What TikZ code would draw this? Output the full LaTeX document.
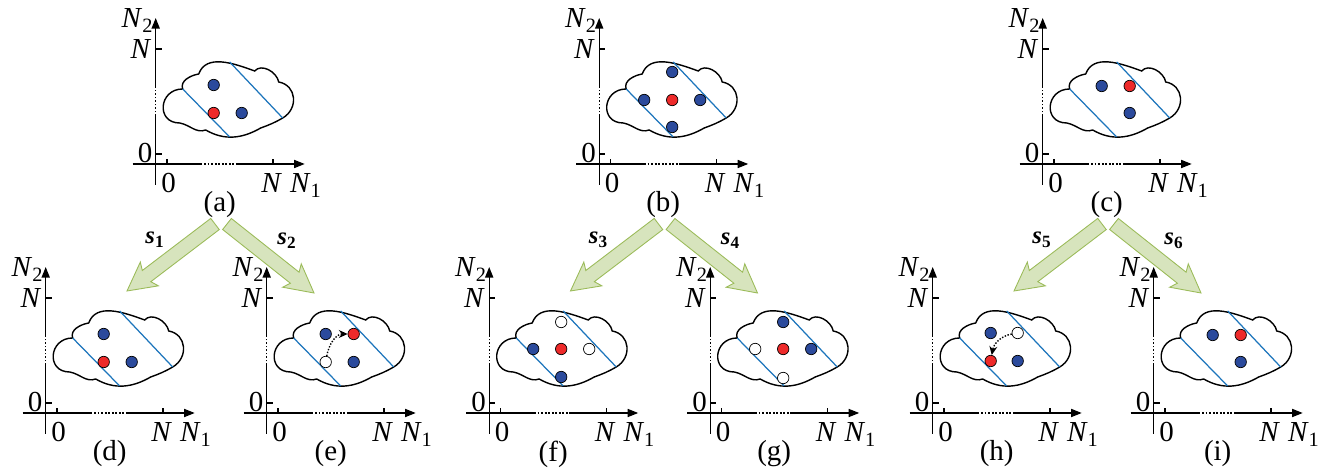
\documentclass[tikz,border=0pt]{standalone}
\usepackage{fontspec}
\setmainfont{Liberation Serif}
\usetikzlibrary{calc,arrows.meta}
\definecolor{dotblue}{HTML}{2B4A9C}
\definecolor{dotred}{HTML}{EE2A2A}
\definecolor{cutblue}{HTML}{1C75BC}
\definecolor{arrfill}{HTML}{D7E4BD}
\definecolor{arrline}{HTML}{9BBB59}

% outline of the cloud, in the panel's own frame (1 unit = 1 px)
\newcommand\cloudpath{(27,75) to[out=110,in=190] (43,90)
  to[out=70,in=160] (99,93) to[out=50,in=100] (123,82)
  to[out=-10,in=30,looseness=1.3] (127,46) to[out=210,in=20] (105,36)
  to[out=-150,in=-30] (50,34) to[out=-160,in=-10] (24,41)
  to[out=180,in=180,looseness=1.8] cycle}

% axes, cloud and caption of one panel
\newcommand\plane[1]{%
  \draw[axisline] (-23,0) -- (45,0);
  \draw[axisline,gap] (45,0) -- (81,0);
  \draw[axisline,-{Triangle[length=6pt,width=4.6pt]}] (81,0) -- (149,0);
  \draw[axisline] (0,-21) -- (0,48);
  \draw[axisline,gap] (0,48) -- (0,76);
  \draw[axisline,-{Triangle[length=6pt,width=4.6pt]}] (0,76) -- (0,146);
  \draw[axisline] (0,10) -- (6,10) (0,115) -- (6,115)
                  (11.3,0) -- (11.3,5) (117.3,0) -- (117.3,5);
  \node[txt,anchor=base east] at (-3,1) {0};
  \node[txt,anchor=base east] at (-4,105) {\textit{N}};
  \node[txt,anchor=base east] at (-2,136) {\textit{N}\textsubscript{2}};
  \node[txt,anchor=base] at (12.8,-29) {0};
  \node[txt,anchor=base] at (116,-29) {\textit{N}};
  \node[txt,anchor=base west] at (134,-29) {\textit{N}\textsubscript{1}};
  \draw[cloud] \cloudpath;
  \draw[cut] (27,75) -- (74,27) (74,102) -- (127,46);
  \node[txt] (lab-#1) at (64,-41) {(#1)};
}

% broad green arrow from #1 (tail) to #2 (tip)
\newcommand\fatarrow[2]{%
  \coordinate (#2-base) at ($(#2)!14pt!(#1)$);
  \coordinate (#2-barb) at ($(#2)!16pt!(#1)$);
  \filldraw[fatarr] ($(#1)!4pt!-90:(#2)$) -- ($(#2-base)!4pt!90:(#1)$)
    -- ($(#2-barb)!8.5pt!90:(#1)$) -- (#2) -- ($(#2-barb)!8.5pt!-90:(#1)$)
    -- ($(#2-base)!4pt!-90:(#1)$) -- ($(#1)!4pt!90:(#2)$) -- cycle;
}

\begin{document}
\begin{tikzpicture}[x=0.02cm,y=0.02cm,
    txt/.style={font=\fontsize{16.5}{19}\selectfont, inner sep=0pt},
    slab/.style={font=\fontsize{14}{16}\selectfont\bfseries, inner sep=0pt},
    axisline/.style={line width=0.8pt},
    gap/.style={line width=0.8pt, dash pattern=on 1pt off 1pt},
    cloud/.style={line width=0.8pt, fill=white},
    cut/.style={cutblue, line width=0.7pt},
    bdot/.style={circle, draw=black, fill=dotblue, line width=0.4pt,
                 minimum size=6.5pt, inner sep=0pt},
    rdot/.style={bdot, fill=dotred},
    wdot/.style={bdot, fill=white},
    move/.style={line width=0.8pt, dash pattern=on 0.8pt off 0.9pt,
                 -{Stealth[length=5pt,width=4.5pt]}},
    fatarr/.style={fill=arrfill, draw=arrline, line width=0.5pt}]
  \useasboundingbox (0,0) rectangle (1330,470);

  % top row
  \begin{scope}[shift={(155.7,306)}]
    \plane{a}
    \node[bdot] (a-1) at (58,79) {};
    \node[rdot] (a-r) at (58,51) {};
    \node[bdot] (a-2) at (86,51) {};
  \end{scope}
  \begin{scope}[shift={(599.2,306)}]
    \plane{b}
    \node[bdot] (b-1) at (73,92) {};
    \node[bdot] (b-2) at (45,64) {};
    \node[rdot] (b-r) at (73,64) {};
    \node[bdot] (b-3) at (101,64) {};
    \node[bdot] (b-4) at (73,37) {};
  \end{scope}
  \begin{scope}[shift={(1042.7,306)}]
    \plane{c}
    \node[bdot] (c-1) at (59,78) {};
    \node[rdot] (c-r) at (87,78) {};
    \node[bdot] (c-2) at (87,51) {};
  \end{scope}

  % bottom row
  \begin{scope}[shift={(45.7,57)}]
    \plane{d}
    \node[bdot] (d-1) at (58,79) {};
    \node[rdot] (d-r) at (58,51) {};
    \node[bdot] (d-2) at (86,51) {};
  \end{scope}
  \begin{scope}[shift={(266.7,57)}]
    \plane{e}
    \node[bdot] (e-1) at (59,79) {};
    \node[rdot] (e-r) at (87,79) {};
    \node[wdot] (e-w) at (59,51) {};
    \node[bdot] (e-2) at (87,51) {};
    \draw[move] (e-w) to[out=80,in=180] (e-r);
  \end{scope}
  \begin{scope}[shift={(489.2,57)}]
    \plane{f}
    \node[wdot] (f-w1) at (72,91) {};
    \node[bdot] (f-1) at (44,64) {};
    \node[rdot] (f-r) at (72,64) {};
    \node[wdot] (f-w2) at (100,64) {};
    \node[bdot] (f-2) at (72,36) {};
  \end{scope}
  \begin{scope}[shift={(710.2,57)}]
    \plane{g}
    \node[bdot] (g-1) at (73,91) {};
    \node[wdot] (g-w1) at (45,64) {};
    \node[rdot] (g-r) at (73,64) {};
    \node[bdot] (g-2) at (101,64) {};
    \node[wdot] (g-w2) at (73,35) {};
  \end{scope}
  \begin{scope}[shift={(932.7,57)}]
    \plane{h}
    \node[bdot] (h-1) at (58,80) {};
    \node[wdot] (h-w) at (85,80) {};
    \node[rdot] (h-r) at (58,52) {};
    \node[bdot] (h-2) at (85,52) {};
    \draw[move] (h-w) to[out=190,in=80] (h-r);
  \end{scope}
  \begin{scope}[shift={(1153.7,57)}]
    \plane{i}
    \node[bdot] (i-1) at (59,78) {};
    \node[rdot] (i-r) at (87,78) {};
    \node[bdot] (i-2) at (87,51) {};
  \end{scope}

  % strategies
  \foreach \top/\l/\r/\sl/\sr in {a/d/e/1/2, b/f/g/3/4, c/h/i/5/6}{
    \coordinate (\l-tail) at ($(lab-\top)+(-4.7,-19)$);
    \coordinate (\l-tip)  at ($(lab-\top)+(-92.7,-86)$);
    \coordinate (\r-tail) at ($(lab-\top)+(7.3,-19)$);
    \coordinate (\r-tip)  at ($(lab-\top)+(94.3,-88)$);
    \fatarrow{\l-tail}{\l-tip}
    \fatarrow{\r-tail}{\r-tip}
    \node[slab] (s\sl) at ($(lab-\top)+(-64.7,-35)$) {\textit{s}\textsubscript{\sl}};
    \node[slab] (s\sr) at ($(lab-\top)+(67.3,-36)$) {\textit{s}\textsubscript{\sr}};
  }
\end{tikzpicture}
\end{document}
